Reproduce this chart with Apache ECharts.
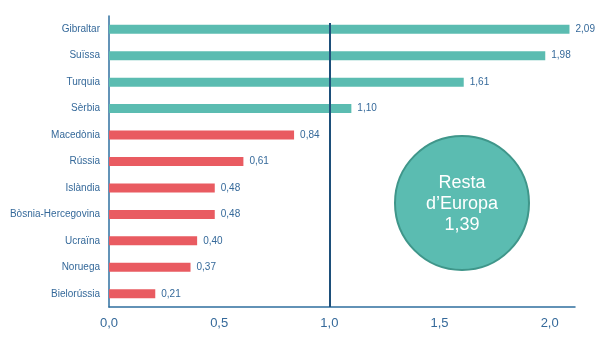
<!DOCTYPE html>
<html><head><meta charset="utf-8">
<script src="https://cdn.jsdelivr.net/npm/echarts@6/dist/echarts.min.js"></script>
<style>html,body{margin:0;padding:0;background:#fff}#c{width:600px;height:338px}</style>
</head><body><div id="c"></div>
<script>
const categories = ['Gibraltar','Suïssa','Turquia','Sèrbia','Macedònia','Rússia','Islàndia','Bòsnia-Hercegovina','Ucraïna','Noruega','Bielorússia'];
const values = [2.09,1.98,1.61,1.10,0.84,0.61,0.48,0.48,0.40,0.37,0.21];
const referenceValue = 1.0;
const restLabel = ['Resta', 'd\u2019Europa', '1,39'];
const fmt = v => v.toFixed(2).replace('.', ',');
const chart = echarts.init(document.getElementById('c'));
const axisColor = '#2f6f9f';
const textColor = '#35699a';
chart.setOption({
  animation: false,
  textStyle: {fontFamily: 'Liberation Sans, Arial, sans-serif'},
  grid: {left: 109, right: 25, top: 16, bottom: 31, containLabel: false},
  xAxis: {
    type: 'value', min: 0, max: 2.115, interval: 0.5,
    axisLine: {show: true, lineStyle: {color: axisColor, width: 1.5}},
    axisTick: {show: false}, splitLine: {show: false},
    axisLabel: {color: textColor, fontSize: 13, margin: 10, showMaxLabel: false,
      formatter: v => v.toFixed(1).replace('.', ',')}
  },
  yAxis: {
    type: 'category', data: categories, inverse: true,
    axisLine: {show: true, lineStyle: {color: axisColor, width: 1.5}},
    axisTick: {show: false},
    axisLabel: {color: textColor, fontSize: 10, margin: 9}
  },
  series: [{
    type: 'bar', data: values, barWidth: 9,
    itemStyle: {color: p => p.value > referenceValue ? '#5bbcb1' : '#e95b61'},
    label: {show: true, position: 'right', distance: 6, color: textColor, fontSize: 10,
      formatter: p => fmt(p.value)},
    markLine: {
      silent: true, symbol: 'none', label: {show: false},
      lineStyle: {color: '#1d4f7a', width: 2, type: 'solid'},
      data: [[{coord: [referenceValue, 0], y: 23}, {coord: [referenceValue, 10], y: 307}]]
    }
  }],
  graphic: [{
    type: 'circle', shape: {cx: 462, cy: 203, r: 67},
    style: {fill: '#5bbcb1', stroke: '#3f968a', lineWidth: 2}
  }, {
    type: 'text', x: 462, y: 204,
    style: {text: restLabel.join('\n'), fill: '#ffffff', font: '18px Liberation Sans, Arial, sans-serif',
      align: 'center', verticalAlign: 'middle', lineHeight: 21}
  }]
});
</script></body></html>
